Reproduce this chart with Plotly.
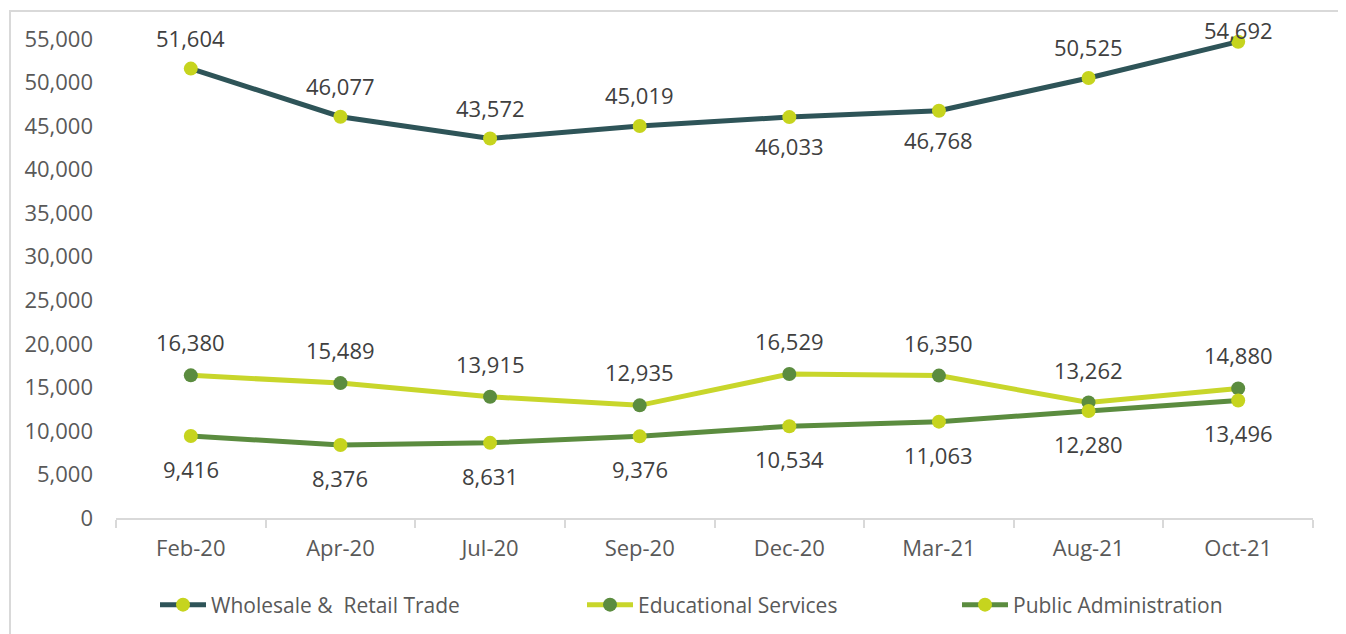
import plotly.graph_objects as go

categories = ["Feb-20", "Apr-20", "Jul-20", "Sep-20", "Dec-20", "Mar-21", "Aug-21", "Oct-21"]
wholesale = [51604, 46077, 43572, 45019, 46033, 46768, 50525, 54692]
educational = [16380, 15489, 13915, 12935, 16529, 16350, 13262, 14880]
public_admin = [9416, 8376, 8631, 9376, 10534, 11063, 12280, 13496]

# label offsets in pixels (negative = below)
wholesale_shift = [31, 31, 31, 31, -29, -29, 31, 12]
educational_shift = [33] * 8
public_shift = [-33] * 8

FONT = "Open Sans"
W, H = 1346, 634
OFF = 8  # page body margin
L, T = 116 - OFF, 39 - OFF
pw, ph = 1197, 479
R = W - L - pw
B = H - T - ph

def px_x(sx):
    return (sx - OFF - L) / pw

def px_y(sy):
    return (T + ph - (sy - OFF)) / ph

fig = go.Figure()

series = [
    ("Wholesale &\u00a0 Retail Trade", wholesale, "#2E5458", "#C6D41E", wholesale_shift, "legend", 155),
    ("Educational Services", educational, "#C8D62B", "#5B8C3F", educational_shift, "legend2", 582),
    ("Public Administration", public_admin, "#5B8C3F", "#C6D41E", public_shift, "legend3", 957),
]

legends = {}
for name, vals, lc, mc, shifts, lg, lx in series:
    fig.add_trace(go.Scatter(
        x=categories, y=vals, name=name, mode="lines+markers",
        line=dict(color=lc, width=5),
        marker=dict(color=mc, size=14),
        cliponaxis=False, legend=lg,
    ))
    legends[lg] = dict(orientation="h", x=px_x(lx), xanchor="left",
                       y=px_y(605), yanchor="middle", itemwidth=46,
                       bgcolor="rgba(0,0,0,0)",
                       font=dict(family=FONT, size=21, color="#595959"))
    for c, v, s in zip(categories, vals, shifts):
        fig.add_annotation(x=c, y=v, text=f"{v:,}", showarrow=False,
                           yshift=s, font=dict(family=FONT, size=22, color="#404040"))

fig.add_shape(type="rect", xref="paper", yref="paper",
              x0=px_x(10), x1=px_x(1339),
              y0=px_y(660), y1=px_y(11),
              line=dict(color="#D9D9D9", width=2), layer="below")

fig.update_layout(
    width=W, height=H,
    margin=dict(l=L, r=R, t=T, b=B, autoexpand=False),
    paper_bgcolor="white", plot_bgcolor="white",
    font=dict(family=FONT, size=22, color="#595959"),
    showlegend=True,
    xaxis=dict(range=[-0.5, len(categories) - 0.5], showgrid=False, showline=True,
               linecolor="#D9D9D9", linewidth=2,
               ticks="outside", tickson="boundaries", ticklen=8, tickcolor="#D9D9D9",
               tickwidth=2, ticklabelstandoff=10),
    yaxis=dict(range=[0, 55000], dtick=5000, showgrid=False, showline=False,
               zeroline=False, tickformat=",", ticks="", ticklabelstandoff=22),
    **legends,
)

fig.write_html("out.html")
